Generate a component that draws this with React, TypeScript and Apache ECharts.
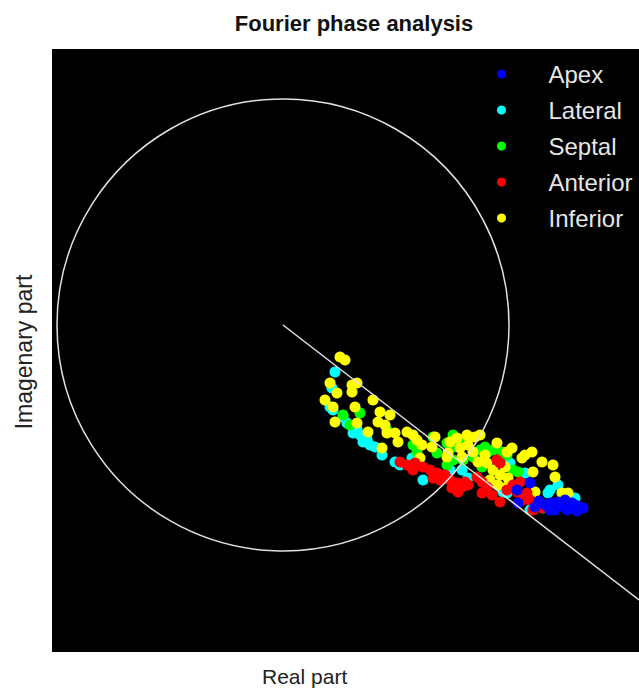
import React, { useEffect, useRef } from "react";
import * as echarts from "echarts";

// Offsets are in amplitude units (real, imaginary), centre of the circle at (0,0)
const apex: number[][] = [
  [247, -158], [234, -165], [235, -178], [252, -182], [262, -180], [267, -178],
  [275, -177], [282, -175], [289, -178], [297, -182], [300, -183], [284, -185],
  [272, -185], [267, -185], [292, -180], [279, -181], [256, -176], [294, -186],
];
const lateral: number[][] = [
  [52, -47], [49, -63], [47, -82], [50, -85], [60, -92], [64, -98], [70, -108],
  [77, -110], [80, -117], [87, -120], [92, -122], [99, -130], [112, -137],
  [117, -140], [140, -155], [129, -133], [167, -145], [179, -145], [185, -153],
  [220, -167], [224, -168], [227, -138], [242, -148], [267, -165], [275, -160],
  [265, -168], [250, -178], [260, -183], [247, -185], [292, -173], [74, -104],
  [84, -114],
];
const septal: number[][] = [
  [60, -90], [77, -88], [67, -100], [104, -105], [130, -120], [134, -127],
  [150, -112], [154, -128], [170, -135], [180, -135], [190, -132], [197, -125],
  [204, -128], [170, -110], [164, -118], [170, -122], [164, -140], [184, -117],
  [202, -122], [210, -125], [224, -130], [199, -142], [219, -127], [230, -145],
  [235, -147], [179, -115],
];
const anterior: number[][] = [
  [117, -137], [124, -140], [130, -145], [132, -138], [140, -142], [147, -145],
  [154, -148], [150, -153], [157, -155], [167, -155], [174, -158], [179, -162],
  [185, -160], [169, -163], [175, -167], [199, -168], [209, -170], [217, -177],
  [194, -152], [199, -157], [214, -135], [217, -138], [204, -162], [224, -165],
  [234, -167], [237, -157], [230, -160], [240, -175], [247, -175], [244, -168],
  [259, -183], [250, -185], [162, -150], [182, -157],
];
const inferior: number[][] = [
  [57, -32], [62, -35], [47, -58], [54, -68], [69, -60], [74, -58], [69, -67],
  [42, -75], [50, -82], [90, -75], [72, -82], [97, -87], [52, -97], [107, -90],
  [95, -97], [102, -100], [74, -98], [85, -107], [104, -108], [112, -108],
  [115, -117], [124, -107], [130, -110], [99, -123], [134, -115], [139, -120],
  [137, -133], [149, -122], [152, -112], [167, -117], [174, -113], [184, -110],
  [192, -112], [197, -110], [190, -127], [195, -137], [204, -138], [210, -145],
  [217, -150], [214, -118], [224, -127], [207, -155], [215, -160], [224, -162],
  [177, -123], [185, -120], [165, -128], [179, -132], [202, -130], [229, -123],
  [242, -130], [249, -127], [239, -133], [259, -137], [270, -140], [250, -147],
  [272, -152], [222, -142], [225, -153], [227, -160], [252, -167], [279, -168],
  [285, -168], [164, -132],
];

const circleCenter = [0, 0];
const circleRadius = 226;
const phaseLine: number[][] = [[0, 0], [356, -275]];

const legendNames = ["Apex", "Lateral", "Septal", "Anterior", "Inferior"];

const FONT = "'Liberation Sans', Arial, Helvetica, sans-serif";

export default function App() {
  const ref = useRef<HTMLDivElement>(null);
  useEffect(() => {
    if (!ref.current) return;
    const chart = echarts.init(ref.current, undefined, { renderer: "svg" });
    const scatter = (name: string, data: number[][], color: string, z: number) => ({
      name,
      type: "scatter",
      data,
      symbol: "circle",
      symbolSize: 11,
      itemStyle: { color, opacity: 1 },
      z,
      emphasis: { disabled: true },
    });
    chart.setOption({
      animation: false,
      backgroundColor: "#ffffff",
      title: {
        text: "Fourier phase analysis",
        left: 349,
        top: 7,
        textAlign: "center",
        textStyle: { fontFamily: FONT, fontWeight: "bold", fontSize: 22, color: "#111" },
      },
      grid: {
        left: 52,
        top: 49,
        right: 0,
        bottom: 42,
        show: true,
        backgroundColor: "#000000",
        borderWidth: 0,
      },
      xAxis: {
        type: "value",
        min: -231,
        max: 356,
        axisLine: { show: false },
        axisTick: { show: false },
        axisLabel: { show: false },
        splitLine: { show: false },
      },
      yAxis: {
        type: "value",
        min: -327,
        max: 276,
        axisLine: { show: false },
        axisTick: { show: false },
        axisLabel: { show: false },
        splitLine: { show: false },
      },
      legend: {
        data: legendNames,
        orient: "vertical",
        left: 492,
        top: 57,
        icon: "circle",
        itemWidth: 84,
        itemHeight: 9,
        itemGap: 12,
        textStyle: { color: "#e6e6e6", fontSize: 24, lineHeight: 24, fontFamily: FONT },
        selectedMode: false,
      },
      graphic: [
        {
          type: "text",
          left: 262,
          top: 666,
          style: { text: "Real part", fontSize: 21, fontFamily: FONT, fill: "#222" },
        },
        {
          type: "text",
          x: 12,
          y: 352,
          rotation: Math.PI / 2,
          style: {
            text: "Imagenary part",
            fontSize: 23,
            fontFamily: FONT,
            fill: "#222",
            align: "center",
            verticalAlign: "top",
          },
        },
      ],
      series: [
        scatter("Lateral", lateral, "#00ffff", 2),
        scatter("Septal", septal, "#00ff00", 3),
        scatter("Inferior", inferior, "#ffff00", 4),
        scatter("Anterior", anterior, "#ff0000", 5),
        scatter("Apex", apex, "#0000ff", 6),
        {
          type: "custom",
          data: [[circleCenter[0], circleCenter[1], circleRadius]],
          z: 10,
          silent: true,
          renderItem: (params: any, api: any) => {
            const c = api.coord([api.value(0), api.value(1)]);
            const r = api.size([api.value(2), 0])[0];
            return {
              type: "circle",
              shape: { cx: c[0], cy: c[1], r },
              style: { fill: "none", stroke: "#e0e0e0", lineWidth: 1.5 },
            };
          },
        },
        {
          type: "line",
          data: phaseLine,
          symbol: "none",
          z: 11,
          silent: true,
          lineStyle: { color: "#e0e0e0", width: 1.5 },
        },
      ],
    });
    return () => chart.dispose();
  }, []);
  return (
    <div
      ref={ref}
      style={{ position: "absolute", left: 0, top: 0, width: 639, height: 694 }}
    />
  );
}
